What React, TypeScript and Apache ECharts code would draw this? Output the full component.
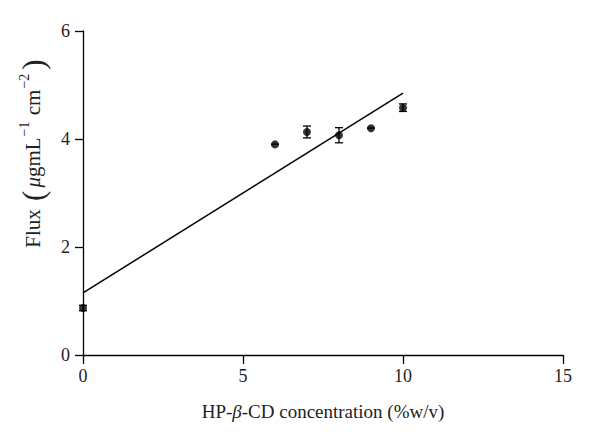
import React, { useEffect, useRef } from "react";
import * as echarts from "echarts";

const concentrations = [0, 6, 7, 8, 9, 10];
const fluxValues = [0.87, 3.9, 4.13, 4.07, 4.2, 4.58];
const fluxErrors = [0.05, 0.0, 0.11, 0.14, 0.0, 0.07];
const fitLineX = [0, 10];
const fitLineY = [1.15, 4.85];
const xTicks = [0, 5, 10, 15];
const yTicks = [0, 2, 4, 6];

const FONT = "'Liberation Serif', 'DejaVu Serif', serif";

export default function App() {
  const ref = useRef<HTMLDivElement>(null);
  useEffect(() => {
    if (!ref.current) return;
    const chart = echarts.init(ref.current, null, { renderer: "svg" });
    const points = concentrations.map((x, i) => [x, fluxValues[i]]);
    const errData = concentrations.map((x, i) => [x, fluxValues[i] - fluxErrors[i], fluxValues[i] + fluxErrors[i]]);
    const fit = fitLineX.map((x, i) => [x, fitLineY[i]]);
    chart.setOption({
      animation: false,
      backgroundColor: "#ffffff",
      grid: { left: 75, right: 45, top: 23, bottom: 97, containLabel: false },
      xAxis: {
        type: "value",
        min: xTicks[0],
        max: xTicks[xTicks.length - 1],
        interval: 5,
        name: "HP-{b|β}-CD concentration (%w/v)",
        nameLocation: "middle",
        nameGap: 47,
        nameTextStyle: {
          fontFamily: FONT,
          fontSize: 19,
          color: "#222",
          rich: { b: { fontFamily: FONT, fontSize: 19, fontStyle: "italic", color: "#222" } },
        },
        axisLine: { show: true, onZero: false, lineStyle: { color: "#000", width: 1.3 } },
        axisTick: { show: true, inside: false, length: 9, lineStyle: { color: "#000", width: 1.3 } },
        axisLabel: { fontFamily: FONT, fontSize: 18, color: "#222", margin: 12 },
        splitLine: { show: false },
      },
      yAxis: {
        type: "value",
        min: yTicks[0],
        max: yTicks[yTicks.length - 1],
        interval: 2,
        axisLine: { show: true, onZero: false, lineStyle: { color: "#000", width: 1.3 } },
        axisTick: { show: true, inside: false, length: 8, lineStyle: { color: "#000", width: 1.3 } },
        axisLabel: { fontFamily: FONT, fontSize: 18, color: "#222", margin: 13 },
        splitLine: { show: false },
      },
      graphic: [
        {
          type: "text",
          x: 25,
          y: 144,
          rotation: Math.PI / 2,
          style: {
            text: "{a|Flux }{p|(}{i|μ}{a|gmL}{s|−1}{a| cm}{s|−2}{p|)}",
            align: "center",
            verticalAlign: "middle",
            rich: {
              a: { fontFamily: FONT, fontSize: 21, fill: "#222" },
              i: { fontFamily: FONT, fontSize: 21, fontStyle: "italic", fill: "#222" },
              s: { fontFamily: FONT, fontSize: 14, fill: "#222", verticalAlign: "top", padding: [0, 1, 10, 1] },
              p: { fontFamily: FONT, fontSize: 31, fill: "#222", padding: [0, 3, 0, 3] },
            },
          },
        },
      ],
      series: [
        {
          type: "line",
          data: fit,
          showSymbol: false,
          symbol: "none",
          lineStyle: { color: "#000", width: 1.5 },
          z: 2,
        },
        {
          type: "custom",
          data: errData,
          renderItem: (params: any, api: any) => {
            const x = api.value(0);
            const lo = api.coord([x, api.value(1)]);
            const hi = api.coord([x, api.value(2)]);
            const hw = 4;
            const style = { stroke: "#000", lineWidth: 1.3 };
            return {
              type: "group",
              children: [
                { type: "line", shape: { x1: lo[0], y1: lo[1], x2: hi[0], y2: hi[1] }, style },
                { type: "line", shape: { x1: lo[0] - hw, y1: lo[1], x2: lo[0] + hw, y2: lo[1] }, style },
                { type: "line", shape: { x1: hi[0] - hw, y1: hi[1], x2: hi[0] + hw, y2: hi[1] }, style },
              ],
            };
          },
          z: 3,
        },
        {
          type: "scatter",
          data: points,
          symbol: "circle",
          symbolSize: 8,
          itemStyle: { color: "#000" },
          z: 4,
        },
      ],
    });
    return () => chart.dispose();
  }, []);
  return <div ref={ref} style={{ width: 600, height: 444 }} />;
}
